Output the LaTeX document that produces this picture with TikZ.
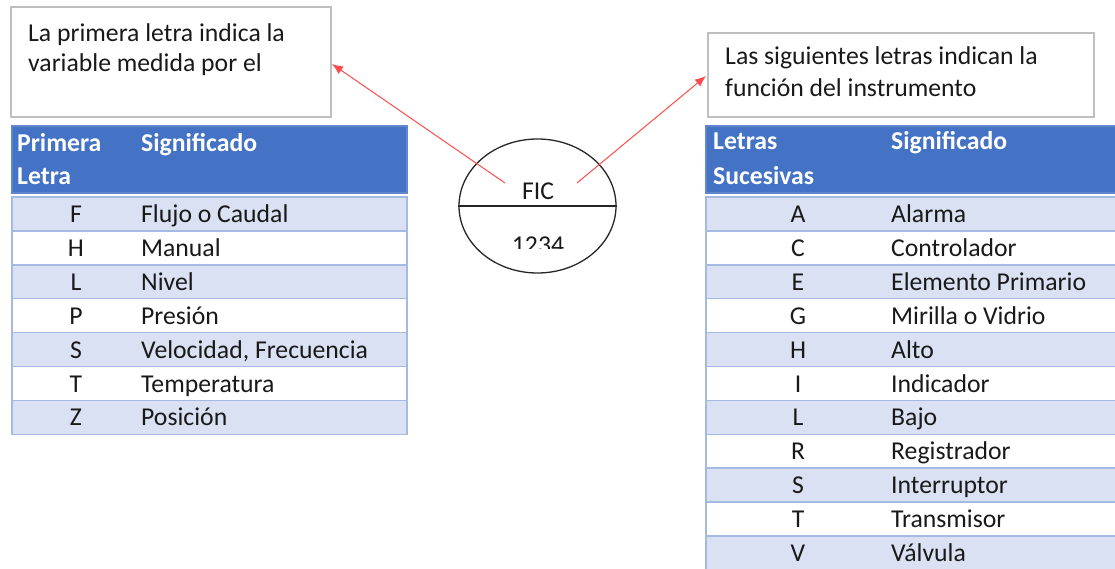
\documentclass[tikz,border=0pt]{standalone}
\usepackage{fontspec}
\setmainfont{Carlito}
\usetikzlibrary{shapes.geometric,arrows.meta}
\definecolor{hdr}{HTML}{4472C4}
\definecolor{rowA}{HTML}{D9E1F2}
\definecolor{rowline}{HTML}{A4BAE2}
\definecolor{boxline}{HTML}{BFBFBF}
\definecolor{arrowred}{HTML}{FF4B4B}
\tikzset{
  x=1pt, y=-1pt,
  txt/.style={inner sep=0pt, font=\fontsize{25.7}{30}\selectfont, text=black!90},
  hdrtxt/.style={txt, text=white, font=\fontsize{25.7}{30}\selectfont\bfseries},
  note/.style={draw=boxline, line width=1.2pt, fill=white},
  hdrbox/.style={fill=hdr, draw=hdr!85!white, line width=1.5pt},
  oddrow/.style={fill=rowA, draw=rowline, line width=1.5pt},
  evenrow/.style={fill=white, draw=rowline, line width=1.5pt},
  pointer/.style={draw=arrowred, line width=1pt, -{Latex[length=11pt,width=9pt]}},
}
\begin{document}
\begin{tikzpicture}
\useasboundingbox (0,0) rectangle (1115,569);
% ---------- left note ----------
\draw[note] (11,7) rectangle (331,117);
\node[txt, anchor=base west] (lnote1) at (28,42) {La primera letra indica la};
\node[txt, anchor=base west] (lnote2) at (28,72) {variable medida por el};
\coordinate (lnoteTip) at (332,64);
% ---------- left table ----------
\draw[hdrbox] (12,126) rectangle (407,193);
\node[hdrtxt, anchor=base west] (lh1) at (17,152) {Primera};
\node[hdrtxt, anchor=base west] (lh2) at (17,185) {Letra};
\node[hdrtxt, anchor=base west] (lh3) at (141,152) {Significado};
\foreach \k/\l/\d in {0/F/Flujo o Caudal,1/H/Manual,2/L/Nivel,3/P/Presión,4/S/{Velocidad, Frecuencia},5/T/Temperatura,6/Z/Posición}{
  \pgfmathsetmacro{\top}{197+33.9*\k}
  \pgfmathsetmacro{\bot}{\top+33.9}
  \pgfmathsetmacro{\base}{\top+25.5}
  \pgfmathparse{mod(\k,2)==0 ? "oddrow" : "evenrow"}
  \draw[\pgfmathresult] (12,\top) rectangle (407,\bot);
  \node[txt, anchor=base] (ll\k) at (76,\base) {\l};
  \node[txt, anchor=base west] (ld\k) at (141,\base) {\d};
}
% ---------- right note ----------
\draw[note] (708,33) rectangle (1094,117);
\node[txt, anchor=base west] (rnote1) at (725,65) {Las siguientes letras indican la};
\node[txt, anchor=base west] (rnote2) at (725,97) {función del instrumento};
\coordinate (rnoteTip) at (706,76);
% ---------- right table ----------
\draw[hdrbox] (706,126) rectangle (1120,193);
\node[hdrtxt, anchor=base west] (rh1) at (713,150) {Letras};
\node[hdrtxt, anchor=base west] (rh2) at (713,185) {Sucesivas};
\node[hdrtxt, anchor=base west] (rh3) at (891,150) {Significado};
\foreach \k/\l/\d in {0/A/Alarma,1/C/Controlador,2/E/Elemento Primario,3/G/Mirilla o Vidrio,4/H/Alto,5/I/Indicador,6/L/Bajo,7/R/Registrador,8/S/Interruptor,9/T/Transmisor,10/V/Válvula}{
  \pgfmathsetmacro{\top}{197+33.9*\k}
  \pgfmathsetmacro{\bot}{\top+33.9}
  \pgfmathsetmacro{\base}{\top+25.5}
  \pgfmathparse{mod(\k,2)==0 ? "oddrow" : "evenrow"}
  \draw[\pgfmathresult] (706,\top) rectangle (1120,\bot);
  \node[txt, anchor=base] (rl\k) at (798,\base) {\l};
  \node[txt, anchor=base west] (rd\k) at (891,\base) {\d};
}
% ---------- instrument bubble ----------
\node[ellipse, draw=black!85, line width=1.3pt, minimum width=157pt, minimum height=134pt, inner sep=0pt] (bubble) at (537.5,206) {};
\draw[black!85, line width=1.3pt] (bubble.west) -- (bubble.east);
\node[txt, anchor=base] (tag) at (538,200) {FIC};
\begin{scope}
  \clip (470,210) rectangle (600,248);
  \node[txt, anchor=base] (num) at (538,253) {1234};
\end{scope}
% ---------- pointers ----------
\coordinate (lstart) at (505,183);
\coordinate (rstart) at (577,183);
\draw[pointer] (lstart) -- (lnoteTip);
\draw[pointer] (rstart) -- (rnoteTip);
\end{tikzpicture}
\end{document}
